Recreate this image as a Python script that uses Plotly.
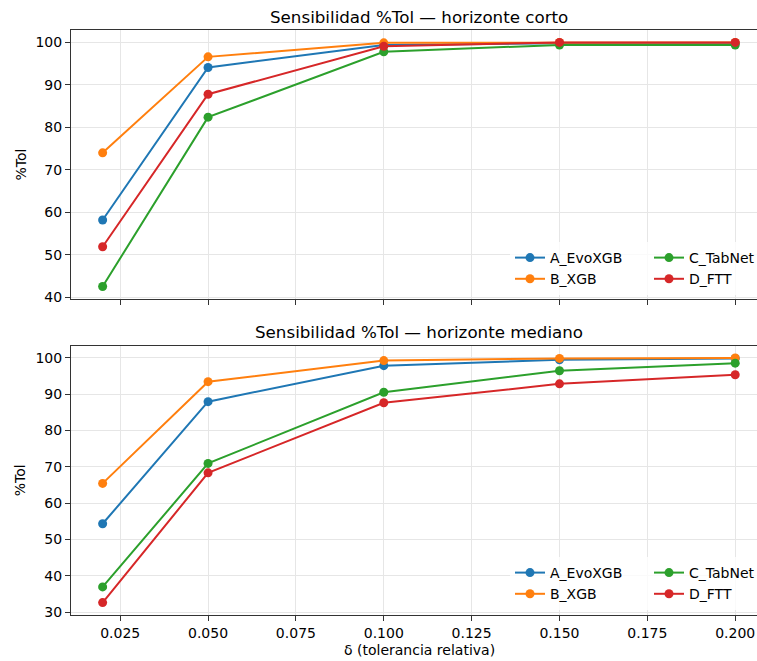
import plotly.graph_objects as go

delta = [0.02, 0.05, 0.10, 0.15, 0.20]
models = ["A_EvoXGB", "B_XGB", "C_TabNet", "D_FTT"]
colors = ["#1f77b4", "#ff7f0e", "#2ca02c", "#d62728"]

corto_A = [58.2, 94.1, 99.4, 99.8, 99.8]
corto_B = [74.0, 96.6, 99.9, 100.0, 100.0]
corto_C = [42.55, 82.4, 97.8, 99.4, 99.4]
corto_D = [51.9, 87.8, 99.1, 100.0, 100.0]

mediano_A = [54.3, 87.9, 97.8, 99.4, 99.8]
mediano_B = [65.4, 93.4, 99.2, 99.8, 99.94]
mediano_C = [36.9, 70.9, 90.5, 96.4, 98.5]
mediano_D = [32.6, 68.3, 87.6, 92.8, 95.3]

corto = [corto_A, corto_B, corto_C, corto_D]
mediano = [mediano_A, mediano_B, mediano_C, mediano_D]

xticks = [0.025, 0.05, 0.075, 0.10, 0.125, 0.15, 0.175, 0.20]
yticks_top = [40, 50, 60, 70, 80, 90, 100]
yticks_bot = [30, 40, 50, 60, 70, 80, 90, 100]

W, H = 757, 661
FONT = "DejaVu Sans"

fig = go.Figure()
groups = ["c1", "c1", "c2", "c2"]
for i, m in enumerate(models):
    fig.add_trace(go.Scatter(
        x=delta, y=corto[i], name=m, mode="lines+markers",
        line=dict(color=colors[i], width=2), marker=dict(size=9, color=colors[i]),
        xaxis="x", yaxis="y", legend="legend", legendgroup="t" + groups[i]))
for i, m in enumerate(models):
    fig.add_trace(go.Scatter(
        x=delta, y=mediano[i], name=m, mode="lines+markers",
        line=dict(color=colors[i], width=2), marker=dict(size=9, color=colors[i]),
        xaxis="x2", yaxis="y2", legend="legend2", legendgroup="b" + groups[i]))

def py(p):
    return (H - p) / H

xdom = [71 / W, 1.0]
xrange_ = [0.011, 0.2062]
common_x = dict(range=xrange_, tickvals=xticks, tickformat=".3f", showgrid=True,
                gridcolor="#e6e6e6", gridwidth=1, showline=True, linecolor="#333333",
                linewidth=1.1, mirror=True, ticks="outside", ticklen=5, tickwidth=1,
                tickcolor="#333333", zeroline=False, automargin=False,
                tickfont=dict(family=FONT, size=14, color="black"))
common_y = dict(showgrid=True, gridcolor="#e6e6e6", gridwidth=1, showline=True,
                linecolor="#333333", linewidth=1.1, mirror=False, ticks="outside",
                ticklen=5, tickwidth=1, tickcolor="#333333", zeroline=False, automargin=False,
                tickfont=dict(family=FONT, size=14, color="black"))

legend_common = dict(orientation="h", traceorder="grouped", xanchor="left",
                     yanchor="top", bgcolor="rgba(255,255,255,0.8)", borderwidth=0,
                     font=dict(family=FONT, size=14, color="black"),
                     tracegroupgap=0, itemwidth=30, entrywidth=94,
                     entrywidthmode="pixels")

fig.update_layout(
    width=W, height=H, margin=dict(l=0, r=0, t=0, b=0, autoexpand=False),
    paper_bgcolor="white", plot_bgcolor="white",
    font=dict(family=FONT, size=14, color="black"),
    xaxis=dict(domain=xdom, anchor="y", showticklabels=False, matches="x2", **common_x),
    yaxis=dict(domain=[py(298.7), py(30.3)], anchor="x", range=[39.67, 102.85],
               tickvals=yticks_top, **common_y),
    xaxis2=dict(domain=xdom, anchor="y2", **common_x),
    yaxis2=dict(domain=[py(614.7), py(345.7)], anchor="x2", range=[29.26, 103.3],
                tickvals=yticks_bot, **common_y),
    legend=dict(x=510 / W, y=py(242), **legend_common),
    legend2=dict(x=510 / W, y=py(557), **legend_common),
    showlegend=True,
)

annos = [
    dict(text="Sensibilidad %Tol — horizonte corto", x=419 / W, y=py(16.5), size=16.7),
    dict(text="Sensibilidad %Tol — horizonte mediano", x=419 / W, y=py(332), size=16.7),
    dict(text="δ (tolerancia relativa)", x=419 / W, y=py(650), size=14),
]
for a in annos:
    fig.add_annotation(text=a["text"], x=a["x"], y=a["y"], xref="paper", yref="paper",
                       xanchor="center", yanchor="middle", showarrow=False,
                       font=dict(family=FONT, size=a["size"], color="black"))
for yc in [164.5, 480.2]:
    fig.add_annotation(text="%Tol", x=20 / W, y=py(yc), xref="paper", yref="paper",
                       xanchor="center", yanchor="middle", showarrow=False, textangle=-90,
                       font=dict(family=FONT, size=14, color="black"))

fig.write_html("out.html")
